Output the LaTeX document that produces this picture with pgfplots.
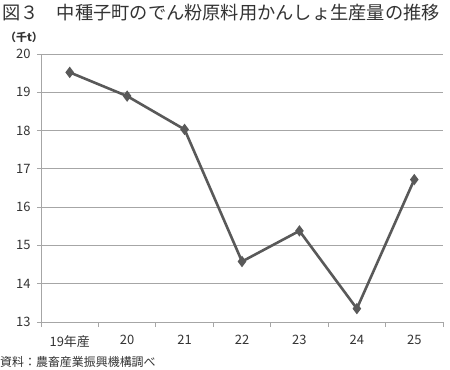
\documentclass[border=0pt]{standalone}
\usepackage{pgfplots}
\pgfplotsset{compat=1.18}
\usepackage{fontspec}
\setmainfont{Noto Sans CJK JP}
\definecolor{ln}{HTML}{595959}
\definecolor{gr}{HTML}{A6A6A6}
\definecolor{tx}{HTML}{333333}
\begin{document}
\begin{tikzpicture}
\path[use as bounding box] (-41bp,-48bp) rectangle (409bp,322bp);
\begin{axis}[
  scale only axis, width=402bp, height=268bp,
  at={(0,0)}, anchor=south west,
  xmin=-0.5, xmax=6.5, ymin=13, ymax=20,
  xtick={0,...,6}, xticklabels={19年産,20,21,22,23,24,25},
  minor xtick={-0.5,0.5,...,6.5},
  ytick={13,...,20},
  ymajorgrids,
  major grid style={gr, line width=0.8bp},
  axis x line*=bottom, axis y line*=left,
  axis line style={gr, line width=0.8bp},
  tick align=outside,
  major tick length=4bp, minor tick length=5bp,
  major x tick style={draw=none},
  minor x tick style={gr, line width=0.8bp},
  ytick style={gr, line width=0.8bp},
  /pgf/number format/assume math mode=true,
  tick label style={font=\fontsize{13}{13}\selectfont, text=tx},
  xticklabel style={yshift=-6bp},
  yticklabel style={xshift=-3bp},
  clip=false,
]
\addplot[ln, line width=2.6bp, mark=diamond*, mark size=3.6bp, mark options={solid, fill=ln}]
  coordinates {(0,19.52) (1,18.90) (2,18.03) (3,14.58) (4,15.38) (5,13.35) (6,16.72)};
\end{axis}
\node[anchor=west, inner sep=0, text=tx, font=\fontsize{18.3}{20}\selectfont] at (-39bp,309bp) {図３　中種子町のでん粉原料用かんしょ生産量の推移};
\node[anchor=west, inner sep=0, text=tx, font=\fontsize{11}{11}\selectfont\bfseries] at (-36bp,285bp) {（千t）};
\node[anchor=west, inner sep=0, text=tx, font=\fontsize{12}{13}\selectfont] at (-41bp,-40bp) {資料：農畜産業振興機構調べ};
\end{tikzpicture}
\end{document}
